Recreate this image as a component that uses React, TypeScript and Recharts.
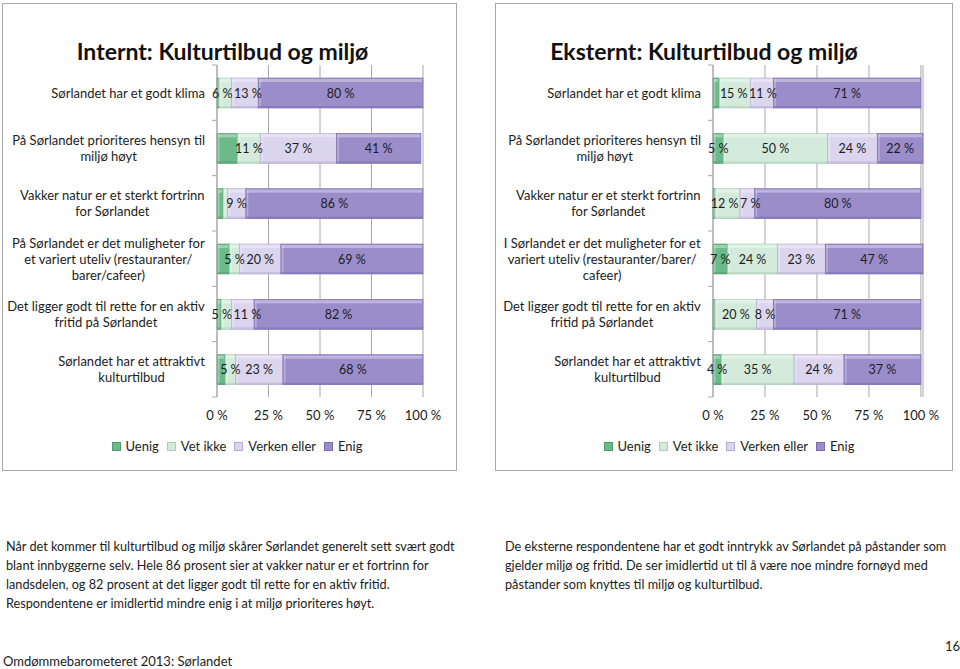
import React from "react";
import { BarChart, Bar, XAxis, YAxis, CartesianGrid, LabelList } from "recharts";

// shared series
const seriesNames = ["Uenig", "Vet ikke", "Verken eller", "Enig"];
const seriesKeys = ["uenig", "vetIkke", "verken", "enig"];
const seriesColors = ["#6cb98a", "#d4ebdc", "#dbd5ee", "#9b8dca"];
const seriesEdges = ["#4f9a6d", "#a9cdb5", "#b3aad2", "#7a6cad"];
const xTicks = [0, 25, 50, 75, 100];

// Internt
const internCategories = [
  "Sørlandet har et godt klima",
  "På Sørlandet prioriteres hensyn til\nmiljø høyt",
  "Vakker natur er et sterkt fortrinn\nfor Sørlandet",
  "På Sørlandet er det muligheter for\net variert uteliv (restauranter/\nbarer/cafeer)",
  "Det ligger godt til rette for en aktiv\nfritid på Sørlandet",
  "Sørlandet har et attraktivt\nkulturtilbud",
];
const internUenig = [1, 10, 3, 6, 2, 4];
const internVetIkke = [6, 11, 2, 5, 5, 5];
const internVerken = [13, 37, 9, 20, 11, 23];
const internEnig = [80, 41, 86, 69, 82, 68];

// Eksternt
const eksternCategories = [
  "Sørlandet har et godt klima",
  "På Sørlandet prioriteres hensyn til\nmiljø høyt",
  "Vakker natur er et sterkt fortrinn\nfor Sørlandet",
  "I Sørlandet er det muligheter for et\nvariert uteliv (restauranter/barer/\ncafeer)",
  "Det ligger godt til rette for en aktiv\nfritid på Sørlandet",
  "Sørlandet har et attraktivt\nkulturtilbud",
];
const eksternUenig = [3, 5, 1, 7, 1, 4];
const eksternVetIkke = [15, 50, 12, 24, 20, 35];
const eksternVerken = [11, 24, 7, 23, 8, 24];
const eksternEnig = [71, 22, 80, 47, 71, 37];

const FONT = "Lato, 'Open Sans', sans-serif";
const TEXT = "#1c1c1c";
const GRID = "#a8a8a8";
const LABEL_SIZE = 12.5;

let ctx: CanvasRenderingContext2D | null = null;
function measure(s: string, size: number) {
  if (!ctx) ctx = document.createElement("canvas").getContext("2d");
  if (!ctx) return s.length * size * 0.45;
  ctx.font = `${size}px Lato`;
  return ctx.measureText(s).width;
}

const PLOT_TOP = 65;
const PLOT_BOTTOM = 397;
const BAND = (PLOT_BOTTOM - PLOT_TOP) / 6;

function CategoryTick(props: any) {
  const { x, y, payload, index } = props;
  const lines = String(payload.value).split("\n");
  const size = 13;
  const w = Math.max(...lines.map((l) => measure(l, size)));
  const cx = x - w / 2;
  const lh = 16;
  const y0 = y - ((lines.length - 1) * lh) / 2;
  const axisX = x + 12;
  return (
    <g>
      {index === 0 && (
        <line x1={axisX - 5} x2={axisX} y1={y - BAND / 2} y2={y - BAND / 2} stroke={GRID} />
      )}
      <line x1={axisX - 5} x2={axisX} y1={y + BAND / 2} y2={y + BAND / 2} stroke={GRID} />
      <text textAnchor="middle" fontSize={size} fill={TEXT} fontFamily={FONT} dominantBaseline="central">
        {lines.map((l, i) => (
          <tspan key={i} x={cx} y={y0 + i * lh}>
            {l}
          </tspan>
        ))}
      </text>
    </g>
  );
}

// label centres for one row, nudged apart where neighbours would collide
function rowLabelCentres(series: number[][], row: number, hideFirst: boolean, pxPerUnit: number, rowStart: number) {
  const items: { s: number; c: number; w: number }[] = [];
  let acc = 0;
  series.forEach((vals, s) => {
    const v = vals[row];
    if (!(hideFirst && s === 0) && v >= 4) {
      items.push({ s, c: rowStart + (acc + v / 2) * pxPerUnit, w: measure(`${v} %`, LABEL_SIZE) });
    }
    acc += v;
  });
  for (let pass = 0; pass < 4; pass++) {
    for (let j = 1; j < items.length; j++) {
      const a = items[j - 1];
      const b = items[j];
      const overlap = a.c + a.w / 2 + 1.5 - (b.c - b.w / 2);
      if (overlap > 0) {
        a.c -= overlap / 2;
        b.c += overlap / 2;
      }
    }
  }
  const out: Record<number, number> = {};
  items.forEach((it) => (out[it.s] = it.c));
  return out;
}

function makeLabel(series: number[][], s: number, hideFirst: boolean) {
  return (props: any) => {
    const { x, y, width, height, value, index } = props;
    if ((hideFirst && s === 0) || value < 4) return null;
    const ppu = width / value;
    let before = 0;
    for (let k = 0; k < s; k++) before += series[k][index];
    const centres = rowLabelCentres(series, index, hideFirst, ppu, x - before * ppu);
    const cx = centres[s] ?? x + width / 2;
    return (
      <text
        x={cx}
        y={y + height / 2}
        textAnchor="middle"
        dominantBaseline="central"
        fontSize={LABEL_SIZE}
        fontFamily={FONT}
        fill={TEXT}
      >
        {`${value} %`}
      </text>
    );
  };
}

// bevelled segment like the original Excel look
function makeShape(i: number) {
  return (props: any) => {
    const { x, y, width, height } = props;
    if (!width || !height) return <g />;
    return (
      <g>
        <rect x={x} y={y} width={width} height={height} fill={seriesColors[i]} stroke={seriesEdges[i]} strokeWidth={0.6} />
        <rect x={x + 1} y={y + 1} width={Math.max(0, width - 2)} height={3} fill="#ffffff" opacity={0.35} />
        <rect x={x + 1} y={y + 1} width={1.5} height={Math.max(0, height - 2)} fill="#ffffff" opacity={0.3} />
        <rect x={x} y={y + height - 2} width={width} height={2} fill={seriesEdges[i]} opacity={0.5} />
      </g>
    );
  };
}

function Panel(props: {
  categories: string[];
  series: number[][];
  width: number;
  yWidth: number;
  hideFirstLabels: boolean;
}) {
  const { categories, series, width, yWidth, hideFirstLabels } = props;
  const data = categories.map((c, i) => ({
    label: c,
    uenig: series[0][i],
    vetIkke: series[1][i],
    verken: series[2][i],
    enig: series[3][i],
  }));
  return (
    <BarChart
      width={width}
      height={PLOT_BOTTOM + 34}
      data={data}
      layout="vertical"
      margin={{ top: PLOT_TOP, right: 37, bottom: 4, left: 0 }}
    >
      <CartesianGrid horizontal={false} stroke={GRID} />
      <XAxis
        type="number"
        domain={[0, 100]}
        ticks={xTicks}
        axisLine={false}
        tickLine={false}
        tickMargin={8}
        height={30}
        tickFormatter={(v) => `${v} %`}
        tick={{ fontSize: 13, fill: TEXT, fontFamily: FONT }}
      />
      <YAxis
        type="category"
        dataKey="label"
        width={yWidth}
        axisLine={{ stroke: GRID }}
        tickLine={false}
        tickSize={5}
        tickMargin={7}
        interval={0}
        tick={<CategoryTick />}
      />
      {seriesKeys.map((k, i) => (
        <Bar
          key={k}
          dataKey={k}
          name={seriesNames[i]}
          stackId="s"
          barSize={30}
          fill={seriesColors[i]}
          shape={makeShape(i)}
          isAnimationActive={false}
        >
          <LabelList dataKey={k} content={makeLabel(series, i, hideFirstLabels)} />
        </Bar>
      ))}
    </BarChart>
  );
}

function Legend({ center, top }: { center: number; top: number }) {
  return (
    <div
      style={{
        position: "absolute",
        left: center - 200,
        width: 400,
        top,
        display: "flex",
        justifyContent: "center",
        alignItems: "center",
        gap: 8,
        fontFamily: FONT,
        fontSize: 13,
        color: TEXT,
      }}
    >
      {seriesNames.map((n, i) => (
        <div key={n} style={{ display: "flex", alignItems: "center", gap: 5 }}>
          <span
            style={{
              display: "inline-block",
              width: 7,
              height: 7,
              background: seriesColors[i],
              border: `1px solid ${seriesEdges[i]}`,
            }}
          />
          <span>{n}</span>
        </div>
      ))}
    </div>
  );
}

export default function App() {
  const panelBorder = "1px solid #a9a9a9";
  const para = {
    position: "absolute" as const,
    fontFamily: FONT,
    fontSize: 12.7,
    lineHeight: "19px",
    color: TEXT,
    whiteSpace: "nowrap" as const,
  };
  const title = {
    position: "absolute" as const,
    top: 37,
    textAlign: "center" as const,
    fontFamily: FONT,
    fontWeight: 700,
    fontSize: 23,
    color: "#111",
  };
  return (
    <div
      style={{
        position: "absolute",
        left: 0,
        top: 0,
        width: 960,
        height: 669,
        background: "#fff",
        overflow: "hidden",
      }}
    >
      <div style={{ position: "absolute", left: 2, top: 3, width: 453, height: 466, border: panelBorder }} />
      <div style={{ position: "absolute", left: 495, top: 3, width: 456, height: 466, border: panelBorder }} />

      <div style={{ ...title, left: 0, width: 445 }}>Internt: Kulturtilbud og miljø</div>
      <div style={{ ...title, left: 464, width: 480 }}>Eksternt: Kulturtilbud og miljø</div>

      <div style={{ position: "absolute", left: 0, top: 0 }}>
        <Panel
          categories={internCategories}
          series={[internUenig, internVetIkke, internVerken, internEnig]}
          width={460}
          yWidth={217}
          hideFirstLabels={true}
        />
      </div>
      <div style={{ position: "absolute", left: 480, top: 0 }}>
        <Panel
          categories={eksternCategories}
          series={[eksternUenig, eksternVetIkke, eksternVerken, eksternEnig]}
          width={480}
          yWidth={233}
          hideFirstLabels={false}
        />
      </div>

      <Legend center={237} top={438} />
      <Legend center={729} top={438} />

      <div style={{ ...para, left: 6, top: 537 }}>
        Når det kommer til kulturtilbud og miljø skårer Sørlandet generelt sett svært godt
        <br />
        blant innbyggerne selv. Hele 86 prosent sier at vakker natur er et fortrinn for
        <br />
        landsdelen, og 82 prosent at det ligger godt til rette for en aktiv fritid.
        <br />
        Respondentene er imidlertid mindre enig i at miljø prioriteres høyt.
      </div>
      <div style={{ ...para, left: 505, top: 537 }}>
        De eksterne respondentene har et godt inntrykk av Sørlandet på påstander som
        <br />
        gjelder miljø og fritid. De ser imidlertid ut til å være noe mindre fornøyd med
        <br />
        påstander som knyttes til miljø og kulturtilbud.
      </div>
      <div style={{ ...para, left: 945, top: 637, fontSize: 13 }}>16</div>
      <div style={{ ...para, left: 3, top: 652, fontSize: 13 }}>Omdømmebarometeret 2013: Sørlandet</div>
    </div>
  );
}
